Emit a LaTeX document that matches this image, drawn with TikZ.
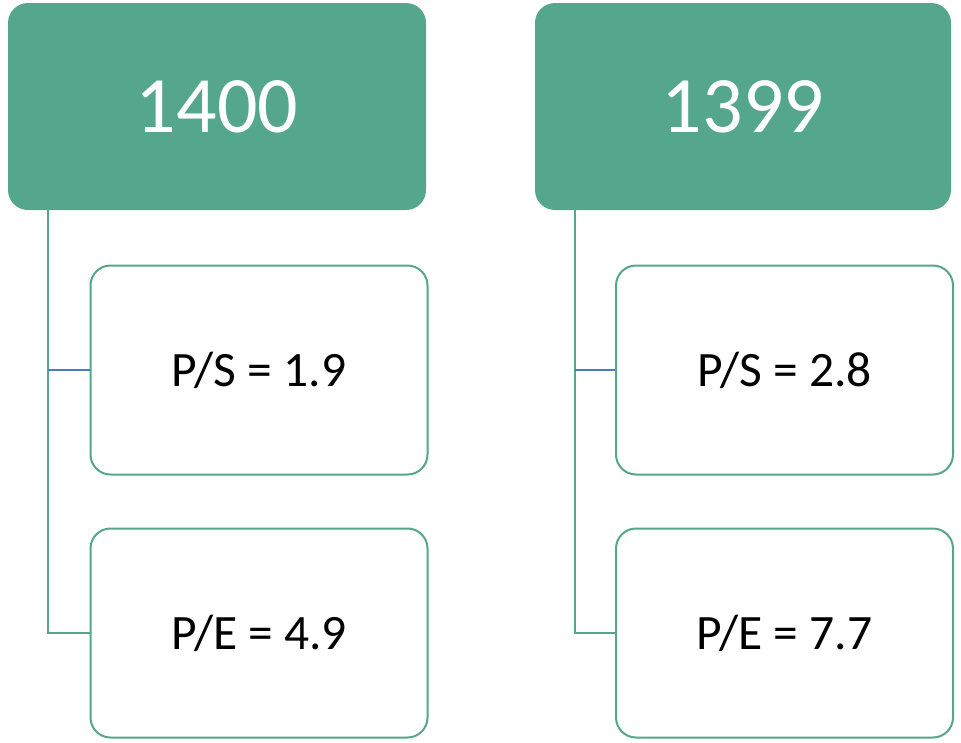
\documentclass[tikz,border=0pt]{standalone}
\usepackage{fontspec}
\setmainfont{Carlito}
\definecolor{hdr}{RGB}{84,167,141}
\definecolor{bl}{RGB}{74,126,187}
\tikzset{
  hbox/.style={draw=none, fill=hdr, rounded corners=20pt, inner sep=0pt, text=white, font=\fontsize{80}{84}\selectfont},
  cbox/.style={draw=hdr, line width=2pt, fill=white, rounded corners=20pt, inner sep=0pt, minimum width=337pt, minimum height=209pt, font=\fontsize{49.5}{54}\selectfont},
  gline/.style={draw=hdr, line width=2pt},
  bline/.style={draw=bl, line width=2pt}
}
\begin{document}
\begin{tikzpicture}[x=1pt,y=-1pt]
\useasboundingbox (0,0) rectangle (961,742);
\node[hbox, minimum width=418pt, minimum height=207pt] (h1) at (217,106.5) {1400};
\node[hbox, minimum width=416pt, minimum height=207pt] (h2) at (743,106.5) {1399};
\node[cbox] (a1) at (259,370) {P/S = 1.9};
\node[cbox] (a2) at (259,633) {P/E = 4.9};
\node[cbox] (b1) at (784.5,370) {P/S = 2.8};
\node[cbox] (b2) at (784.5,633) {P/E = 7.7};
\coordinate (t1) at ([xshift=40pt]h1.south west);
\coordinate (t2) at ([xshift=40pt]h2.south west);
\draw[gline] (t1) |- (a2.west);
\draw[gline] (t2) |- (b2.west);
\draw[bline] (t1 |- a1.west) -- (a1.west);
\draw[bline] (t2 |- b1.west) -- (b1.west);
\end{tikzpicture}
\end{document}
